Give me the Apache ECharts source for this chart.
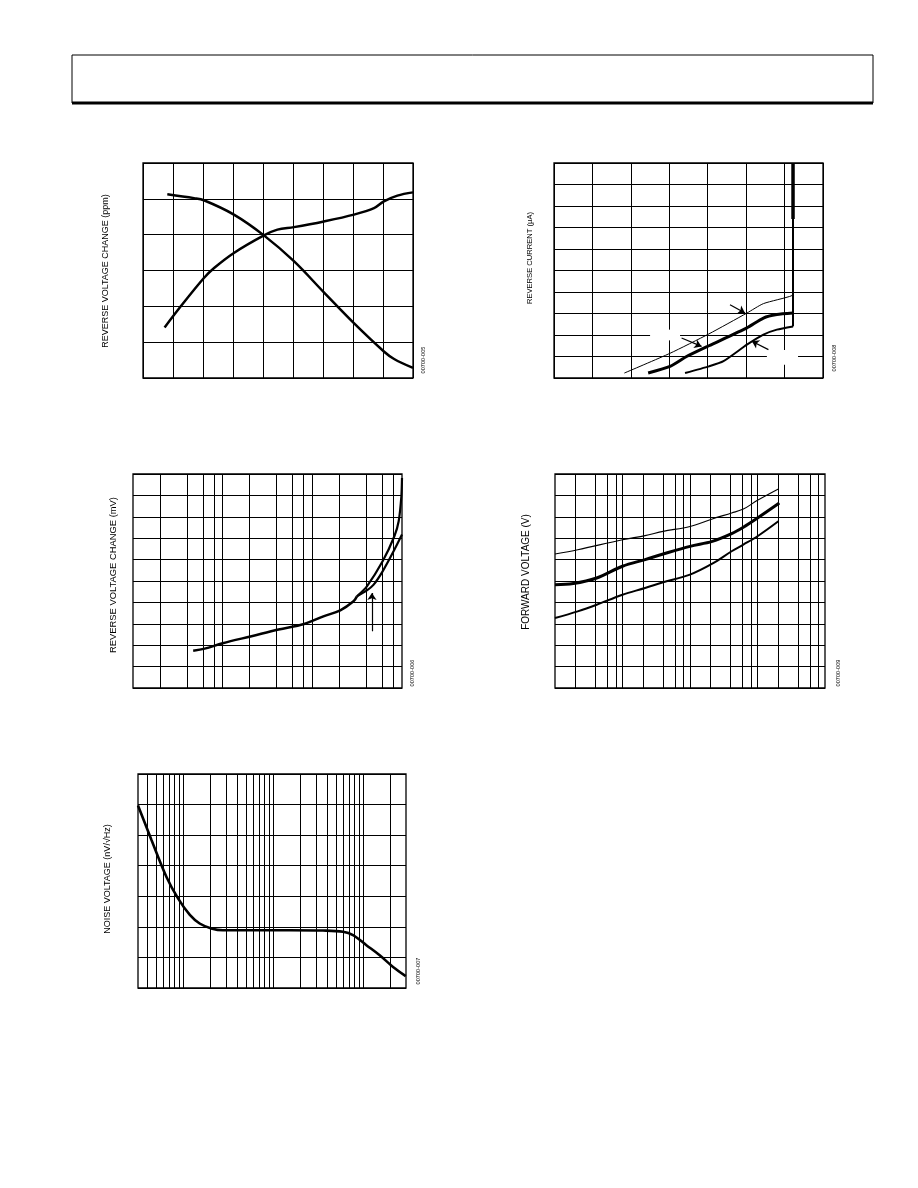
<!DOCTYPE html>
<html><head><meta charset="utf-8">
<script src="https://cdn.jsdelivr.net/npm/echarts@6/dist/echarts.min.js"></script>
<style>html,body{margin:0;padding:0;background:#fff}#main{width:918px;height:1188px}</style>
</head><body><div id="main"></div>
<script>
// ---------- DATA ----------
// Chart 1: reverse voltage change (ppm) vs temperature, grid units
const c1CurveA = [[0.81,5.13],[1.70,5.02],[2.03,4.96],[3.03,4.56],[4.03,3.98],[5.03,3.26],[6.03,2.39],[7.03,1.53],[8.03,0.74],[8.37,0.53],[9.0,0.28]];
const c1CurveB = [[0.72,1.41],[1.26,2.0],[2.03,2.79],[2.37,3.07],[3.03,3.49],[4.03,3.98],[4.48,4.14],[5.03,4.21],[6.03,4.37],[7.03,4.56],[7.7,4.74],[8.03,4.93],[8.48,5.09],[9.0,5.18]];
// Chart 2: reverse current vs reverse voltage
const c2Curve1 = [[1.83,0.23],[3.02,1.15],[4.03,2.05],[5.02,3.02],[5.45,3.46],[6.19,3.83],[6.22,4.03]];
const c2Curve2 = [[2.45,0.23],[3.02,0.54],[3.45,1.0],[4.03,1.5],[5.02,2.33],[5.45,2.79],[5.8,2.95],[6.22,3.02]];
const c2Curve3 = [[3.41,0.23],[4.03,0.54],[4.41,0.78],[5.02,1.55],[5.45,2.02],[5.8,2.25],[6.22,2.4]];
const c2Breakdown = [[6.22,2.4],[6.22,10]];
const c2BreakdownTop = [[6.22,7.4],[6.22,10]];
const c2Arrows = [[[4.58,3.41],[4.97,3.02]],[[3.32,1.86],[3.84,1.47]],[[5.58,1.32],[5.15,1.71]]];
const c2LabelBoxes = [[[2.5,1.75],[3.28,2.25]],[[5.54,0.62],[6.35,1.3]]];
// Chart 3: reverse voltage change (mV) vs reverse current (log)
const c3Shared = [[4.69,1.74],[6.3,1.84],[10,2.09],[21,2.42],[42,2.73],[81,2.99],[133,3.35],[205,3.63],[288,4.05],[314,4.28]];
const c3CurveA = [[314,4.28],[406,4.75],[608,5.92],[822,7.09],[918,7.79],[984,8.96],[1000,9.81]];
const c3CurveB = [[314,4.28],[406,4.56],[483,4.83],[608,5.45],[822,6.46],[1000,7.17]];
const c3Arrow = [[462,2.65],[462,4.44]];
// Chart 4: forward voltage vs forward current (log)
const c4Top = [[1,6.26],[2.17,6.46],[10,6.93],[21.6,7.12],[40,7.32],[100,7.55],[214,7.9],[414,8.18],[617,8.36],[1000,8.77],[2037,9.3]];
const c4Mid = [[1,4.83],[1.87,4.88],[4.14,5.14],[10,5.69],[21.6,6.0],[40,6.26],[100,6.62],[214,6.85],[414,7.21],[617,7.51],[1000,7.94],[2105,8.64]];
const c4Bot = [[1,3.27],[2.17,3.58],[4.14,3.89],[10,4.36],[21.6,4.67],[40,4.94],[100,5.3],[214,5.81],[414,6.39],[617,6.7],[1000,7.09],[2037,7.79]];
// Chart 5: noise voltage vs frequency (log)
const c5Noise = [[3.16,5.97],[4.45,4.85],[6.53,3.64],[8.8,2.93],[11.9,2.39],[15.3,2.11],[20.6,1.95],[27.8,1.89],[65,1.89],[153,1.89],[359,1.88],[600,1.84],[774,1.73],[1089,1.40],[1531,1.07],[2154,0.69],[2980,0.39]];
// log-grid vertical line positions
const c3GridX = [2,4,6,8,10,20,40,60,80,100,200,400,600,800];
const c4GridX = [2,4,6,8,10,20,40,60,80,100,200,400,600,800,1000,2000,4000,6000,8000];
const c5GridX = [4,5,6,7,8,9,10,20,30,40,50,60,70,80,90,100,200,300,400,500,600,700,800,900,1000,2000];
// texts
const yTitles = ['REVERSE VOLTAGE CHANGE (ppm)','REVERSE CURRENT (µA)','REVERSE VOLTAGE CHANGE (mV)','FORWARD VOLTAGE (V)','NOISE VOLTAGE (nV/√Hz)'];
const figIds = ['00700-005','00700-008','00700-006','00700-009','00700-007'];

// ---------- CHART ----------
const chart = echarts.init(document.getElementById('main'), null, {renderer:'canvas'});
const FONT = 'Liberation Sans, Arial, sans-serif';
const grids = [
  {left:143, top:163, width:270, height:215},
  {left:554, top:163, width:269, height:215},
  {left:133, top:474, width:269, height:214},
  {left:555, top:474, width:270, height:214},
  {left:138, top:774, width:268, height:214}
].map(g => Object.assign({show:true, borderColor:'#000', borderWidth:1.3, backgroundColor:'transparent'}, g));

const noLbl = {axisLabel:{show:false}, axisTick:{show:false}, axisLine:{show:false}};
const gridLine = {show:true, lineStyle:{color:'#000', width:1, type:'solid'}};
function linAxis(gi, max){ return Object.assign({type:'value', gridIndex:gi, min:0, max:max, interval:1, splitLine:gridLine}, noLbl); }
function logAxis(gi, min, max){ return Object.assign({type:'log', logBase:10, gridIndex:gi, min:min, max:max, splitLine:{show:false}}, noLbl); }

const xAxes = [linAxis(0,9), linAxis(1,7), logAxis(2,1,1000), logAxis(3,1,10000), logAxis(4,3.16,3000)];
const yAxes = [linAxis(0,6), linAxis(1,10), linAxis(2,10), linAxis(3,10), linAxis(4,7)];

function line(gi, data, width, extra){
  return Object.assign({type:'line', xAxisIndex:gi, yAxisIndex:gi, data:data, symbol:'none', smooth:0.35,
    lineStyle:{color:'#000', width:width}, z:3, silent:true}, extra||{});
}
function gridSeries(gi, data, vals){
  return {type:'line', xAxisIndex:gi, yAxisIndex:gi, data:data, symbol:'none', silent:true, z:1,
    lineStyle:{opacity:0},
    markLine:{silent:true, symbol:['none','none'], label:{show:false}, animation:false,
      lineStyle:{color:'#000', width:1, type:'solid'}, emphasis:{disabled:true},
      data: vals.map(v => ({xAxis:v}))}};
}
function arrows(list){
  return {silent:true, symbol:['none','arrow'], symbolSize:7, label:{show:false},
    lineStyle:{color:'#000', width:1.2, type:'solid'}, emphasis:{disabled:true},
    data: list.map(p => [{coord:p[0], symbol:'none'},{coord:p[1], symbol:'arrow', symbolSize:7}])};
}
function whiteBoxes(gi, data, boxes){
  return {type:'line', xAxisIndex:gi, yAxisIndex:gi, data:data, symbol:'none', silent:true, z:2,
    lineStyle:{opacity:0},
    markArea:{silent:true, label:{show:false}, itemStyle:{color:'#fff', opacity:1, borderWidth:0},
      emphasis:{disabled:true}, data: boxes.map(b => [{coord:b[0]},{coord:b[1]}])}};
}

const series = [
  line(0, c1CurveA, 2.5),
  line(0, c1CurveB, 2.5),
  whiteBoxes(1, c2Curve3, c2LabelBoxes),
  line(1, c2Curve1, 1, {smooth:0.2, markLine: arrows(c2Arrows)}),
  line(1, c2Curve2, 3, {smooth:0.2}),
  line(1, c2Curve3, 2, {smooth:0.2}),
  line(1, c2Breakdown, 2, {smooth:false}),
  line(1, c2BreakdownTop, 3.5, {smooth:false}),
  gridSeries(2, c3Shared, c3GridX),
  line(2, c3Shared, 2.5),
  line(2, c3CurveA, 2.2, {smooth:0.25, markLine: arrows([c3Arrow])}),
  line(2, c3CurveB, 2.2, {smooth:0.25}),
  gridSeries(3, c4Mid, c4GridX),
  line(3, c4Top, 1.1),
  line(3, c4Mid, 3),
  line(3, c4Bot, 2),
  gridSeries(4, c5Noise, c5GridX),
  line(4, c5Noise, 2.6)
];

function vtext(x, y, text, size){
  return {type:'text', x:x, y:y, rotation:Math.PI/2, silent:true, z:10,
    style:{text:text, fill:'#000', fontSize:size, fontFamily:FONT,
      align:'center', verticalAlign:'middle', textAlign:'center', textVerticalAlign:'middle'}};
}
const titlePos = [[106,271,9],[530,258,7.6],[113,575,9.4],[526,572,10],[108,879,9]];
const idPos = [[423,360],[834,358],[412,673],[838,673],[418,971]];
const graphics = [
  {type:'rect', silent:true, shape:{x:72, y:55, width:801, height:48}, style:{fill:'none', stroke:'#000', lineWidth:1}},
  {type:'line', silent:true, shape:{x1:72, y1:103, x2:873, y2:103}, style:{stroke:'#000', lineWidth:3}}
];
yTitles.forEach((t,i) => graphics.push(vtext(titlePos[i][0], titlePos[i][1], t, titlePos[i][2])));
figIds.forEach((t,i) => graphics.push(vtext(idPos[i][0], idPos[i][1], t, 5.6)));

chart.setOption({
  animation:false,
  backgroundColor:'#fff',
  grid: grids,
  xAxis: xAxes,
  yAxis: yAxes,
  series: series,
  graphic: graphics
});
</script></body></html>
